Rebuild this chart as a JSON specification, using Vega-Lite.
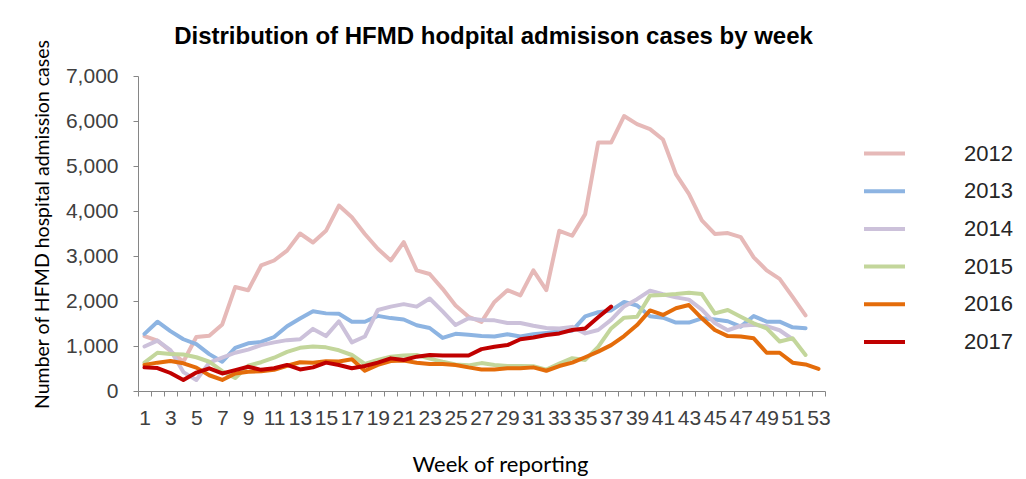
{
  "$schema": "https://vega.github.io/schema/vega-lite/v6.json",
  "width": 687,
  "height": 315,
  "autosize": {"type": "none"},
  "padding": {"left": 138, "top": 76, "right": 201, "bottom": 88},
  "background": "white",
  "title": {
    "text": "Distribution of HFMD hodpital admisison cases by week",
    "font": "Liberation Sans",
    "fontSize": 24,
    "fontWeight": "bold",
    "color": "#000000",
    "anchor": "middle",
    "dx": 12,
    "offset": -10
  },
  "config": {"view": {"stroke": null}, "font": "Liberation Sans"},
  "data": {
    "values": [
      {"year":"2012","week":1,"cases":1220},{"year":"2012","week":2,"cases":1120},{"year":"2012","week":3,"cases":890},{"year":"2012","week":4,"cases":650},{"year":"2012","week":5,"cases":1200},{"year":"2012","week":6,"cases":1230},{"year":"2012","week":7,"cases":1480},{"year":"2012","week":8,"cases":2310},{"year":"2012","week":9,"cases":2240},{"year":"2012","week":10,"cases":2790},{"year":"2012","week":11,"cases":2900},{"year":"2012","week":12,"cases":3120},{"year":"2012","week":13,"cases":3500},{"year":"2012","week":14,"cases":3300},{"year":"2012","week":15,"cases":3560},{"year":"2012","week":16,"cases":4120},{"year":"2012","week":17,"cases":3860},{"year":"2012","week":18,"cases":3490},{"year":"2012","week":19,"cases":3160},{"year":"2012","week":20,"cases":2900},{"year":"2012","week":21,"cases":3310},{"year":"2012","week":22,"cases":2680},{"year":"2012","week":23,"cases":2600},{"year":"2012","week":24,"cases":2270},{"year":"2012","week":25,"cases":1900},{"year":"2012","week":26,"cases":1650},{"year":"2012","week":27,"cases":1535},{"year":"2012","week":28,"cases":1980},{"year":"2012","week":29,"cases":2240},{"year":"2012","week":30,"cases":2125},{"year":"2012","week":31,"cases":2680},{"year":"2012","week":32,"cases":2240},{"year":"2012","week":33,"cases":3560},{"year":"2012","week":34,"cases":3450},{"year":"2012","week":35,"cases":3930},{"year":"2012","week":36,"cases":5520},{"year":"2012","week":37,"cases":5520},{"year":"2012","week":38,"cases":6110},{"year":"2012","week":39,"cases":5930},{"year":"2012","week":40,"cases":5820},{"year":"2012","week":41,"cases":5590},{"year":"2012","week":42,"cases":4820},{"year":"2012","week":43,"cases":4380},{"year":"2012","week":44,"cases":3790},{"year":"2012","week":45,"cases":3490},{"year":"2012","week":46,"cases":3510},{"year":"2012","week":47,"cases":3420},{"year":"2012","week":48,"cases":2970},{"year":"2012","week":49,"cases":2680},{"year":"2012","week":50,"cases":2490},{"year":"2012","week":51,"cases":2090},{"year":"2012","week":52,"cases":1680},
      {"year":"2013","week":1,"cases":1270},{"year":"2013","week":2,"cases":1540},{"year":"2013","week":3,"cases":1330},{"year":"2013","week":4,"cases":1150},{"year":"2013","week":5,"cases":1040},{"year":"2013","week":6,"cases":820},{"year":"2013","week":7,"cases":650},{"year":"2013","week":8,"cases":960},{"year":"2013","week":9,"cases":1060},{"year":"2013","week":10,"cases":1090},{"year":"2013","week":11,"cases":1200},{"year":"2013","week":12,"cases":1440},{"year":"2013","week":13,"cases":1610},{"year":"2013","week":14,"cases":1770},{"year":"2013","week":15,"cases":1725},{"year":"2013","week":16,"cases":1715},{"year":"2013","week":17,"cases":1540},{"year":"2013","week":18,"cases":1540},{"year":"2013","week":19,"cases":1670},{"year":"2013","week":20,"cases":1620},{"year":"2013","week":21,"cases":1590},{"year":"2013","week":22,"cases":1460},{"year":"2013","week":23,"cases":1400},{"year":"2013","week":24,"cases":1180},{"year":"2013","week":25,"cases":1270},{"year":"2013","week":26,"cases":1250},{"year":"2013","week":27,"cases":1220},{"year":"2013","week":28,"cases":1210},{"year":"2013","week":29,"cases":1260},{"year":"2013","week":30,"cases":1210},{"year":"2013","week":31,"cases":1260},{"year":"2013","week":32,"cases":1290},{"year":"2013","week":33,"cases":1320},{"year":"2013","week":34,"cases":1340},{"year":"2013","week":35,"cases":1660},{"year":"2013","week":36,"cases":1750},{"year":"2013","week":37,"cases":1790},{"year":"2013","week":38,"cases":1980},{"year":"2013","week":39,"cases":1900},{"year":"2013","week":40,"cases":1660},{"year":"2013","week":41,"cases":1630},{"year":"2013","week":42,"cases":1520},{"year":"2013","week":43,"cases":1520},{"year":"2013","week":44,"cases":1615},{"year":"2013","week":45,"cases":1590},{"year":"2013","week":46,"cases":1550},{"year":"2013","week":47,"cases":1430},{"year":"2013","week":48,"cases":1665},{"year":"2013","week":49,"cases":1540},{"year":"2013","week":50,"cases":1540},{"year":"2013","week":51,"cases":1415},{"year":"2013","week":52,"cases":1395},
      {"year":"2014","week":1,"cases":990},{"year":"2014","week":2,"cases":1120},{"year":"2014","week":3,"cases":910},{"year":"2014","week":4,"cases":420},{"year":"2014","week":5,"cases":245},{"year":"2014","week":6,"cases":630},{"year":"2014","week":7,"cases":740},{"year":"2014","week":8,"cases":850},{"year":"2014","week":9,"cases":920},{"year":"2014","week":10,"cases":1020},{"year":"2014","week":11,"cases":1080},{"year":"2014","week":12,"cases":1130},{"year":"2014","week":13,"cases":1150},{"year":"2014","week":14,"cases":1380},{"year":"2014","week":15,"cases":1220},{"year":"2014","week":16,"cases":1550},{"year":"2014","week":17,"cases":1080},{"year":"2014","week":18,"cases":1210},{"year":"2014","week":19,"cases":1800},{"year":"2014","week":20,"cases":1875},{"year":"2014","week":21,"cases":1930},{"year":"2014","week":22,"cases":1875},{"year":"2014","week":23,"cases":2055},{"year":"2014","week":24,"cases":1770},{"year":"2014","week":25,"cases":1465},{"year":"2014","week":26,"cases":1615},{"year":"2014","week":27,"cases":1580},{"year":"2014","week":28,"cases":1570},{"year":"2014","week":29,"cases":1510},{"year":"2014","week":30,"cases":1510},{"year":"2014","week":31,"cases":1450},{"year":"2014","week":32,"cases":1400},{"year":"2014","week":33,"cases":1390},{"year":"2014","week":34,"cases":1425},{"year":"2014","week":35,"cases":1280},{"year":"2014","week":36,"cases":1355},{"year":"2014","week":37,"cases":1580},{"year":"2014","week":38,"cases":1880},{"year":"2014","week":39,"cases":2040},{"year":"2014","week":40,"cases":2230},{"year":"2014","week":41,"cases":2150},{"year":"2014","week":42,"cases":2080},{"year":"2014","week":43,"cases":2030},{"year":"2014","week":44,"cases":1810},{"year":"2014","week":45,"cases":1510},{"year":"2014","week":46,"cases":1350},{"year":"2014","week":47,"cases":1450},{"year":"2014","week":48,"cases":1470},{"year":"2014","week":49,"cases":1440},{"year":"2014","week":50,"cases":1350},{"year":"2014","week":51,"cases":1150},
      {"year":"2015","week":1,"cases":630},{"year":"2015","week":2,"cases":850},{"year":"2015","week":3,"cases":820},{"year":"2015","week":4,"cases":810},{"year":"2015","week":5,"cases":750},{"year":"2015","week":6,"cases":650},{"year":"2015","week":7,"cases":440},{"year":"2015","week":8,"cases":290},{"year":"2015","week":9,"cases":560},{"year":"2015","week":10,"cases":640},{"year":"2015","week":11,"cases":740},{"year":"2015","week":12,"cases":870},{"year":"2015","week":13,"cases":960},{"year":"2015","week":14,"cases":990},{"year":"2015","week":15,"cases":970},{"year":"2015","week":16,"cases":905},{"year":"2015","week":17,"cases":800},{"year":"2015","week":18,"cases":600},{"year":"2015","week":19,"cases":690},{"year":"2015","week":20,"cases":760},{"year":"2015","week":21,"cases":790},{"year":"2015","week":22,"cases":800},{"year":"2015","week":23,"cases":720},{"year":"2015","week":24,"cases":650},{"year":"2015","week":25,"cases":590},{"year":"2015","week":26,"cases":570},{"year":"2015","week":27,"cases":620},{"year":"2015","week":28,"cases":580},{"year":"2015","week":29,"cases":555},{"year":"2015","week":30,"cases":555},{"year":"2015","week":31,"cases":550},{"year":"2015","week":32,"cases":475},{"year":"2015","week":33,"cases":610},{"year":"2015","week":34,"cases":730},{"year":"2015","week":35,"cases":690},{"year":"2015","week":36,"cases":980},{"year":"2015","week":37,"cases":1390},{"year":"2015","week":38,"cases":1630},{"year":"2015","week":39,"cases":1650},{"year":"2015","week":40,"cases":2120},{"year":"2015","week":41,"cases":2135},{"year":"2015","week":42,"cases":2155},{"year":"2015","week":43,"cases":2185},{"year":"2015","week":44,"cases":2155},{"year":"2015","week":45,"cases":1725},{"year":"2015","week":46,"cases":1800},{"year":"2015","week":47,"cases":1650},{"year":"2015","week":48,"cases":1505},{"year":"2015","week":49,"cases":1390},{"year":"2015","week":50,"cases":1100},{"year":"2015","week":51,"cases":1170},{"year":"2015","week":52,"cases":800},
      {"year":"2016","week":1,"cases":580},{"year":"2016","week":2,"cases":630},{"year":"2016","week":3,"cases":665},{"year":"2016","week":4,"cases":615},{"year":"2016","week":5,"cases":520},{"year":"2016","week":6,"cases":350},{"year":"2016","week":7,"cases":245},{"year":"2016","week":8,"cases":390},{"year":"2016","week":9,"cases":430},{"year":"2016","week":10,"cases":440},{"year":"2016","week":11,"cases":470},{"year":"2016","week":12,"cases":560},{"year":"2016","week":13,"cases":640},{"year":"2016","week":14,"cases":630},{"year":"2016","week":15,"cases":660},{"year":"2016","week":16,"cases":655},{"year":"2016","week":17,"cases":705},{"year":"2016","week":18,"cases":450},{"year":"2016","week":19,"cases":580},{"year":"2016","week":20,"cases":665},{"year":"2016","week":21,"cases":675},{"year":"2016","week":22,"cases":630},{"year":"2016","week":23,"cases":600},{"year":"2016","week":24,"cases":600},{"year":"2016","week":25,"cases":578},{"year":"2016","week":26,"cases":525},{"year":"2016","week":27,"cases":480},{"year":"2016","week":28,"cases":480},{"year":"2016","week":29,"cases":505},{"year":"2016","week":30,"cases":505},{"year":"2016","week":31,"cases":525},{"year":"2016","week":32,"cases":450},{"year":"2016","week":33,"cases":555},{"year":"2016","week":34,"cases":630},{"year":"2016","week":35,"cases":750},{"year":"2016","week":36,"cases":875},{"year":"2016","week":37,"cases":1020},{"year":"2016","week":38,"cases":1220},{"year":"2016","week":39,"cases":1465},{"year":"2016","week":40,"cases":1790},{"year":"2016","week":41,"cases":1690},{"year":"2016","week":42,"cases":1840},{"year":"2016","week":43,"cases":1910},{"year":"2016","week":44,"cases":1615},{"year":"2016","week":45,"cases":1355},{"year":"2016","week":46,"cases":1220},{"year":"2016","week":47,"cases":1210},{"year":"2016","week":48,"cases":1170},{"year":"2016","week":49,"cases":850},{"year":"2016","week":50,"cases":850},{"year":"2016","week":51,"cases":630},{"year":"2016","week":52,"cases":590},{"year":"2016","week":53,"cases":490},
      {"year":"2017","week":1,"cases":525},{"year":"2017","week":2,"cases":510},{"year":"2017","week":3,"cases":400},{"year":"2017","week":4,"cases":245},{"year":"2017","week":5,"cases":410},{"year":"2017","week":6,"cases":505},{"year":"2017","week":7,"cases":390},{"year":"2017","week":8,"cases":465},{"year":"2017","week":9,"cases":540},{"year":"2017","week":10,"cases":470},{"year":"2017","week":11,"cases":505},{"year":"2017","week":12,"cases":580},{"year":"2017","week":13,"cases":480},{"year":"2017","week":14,"cases":525},{"year":"2017","week":15,"cases":630},{"year":"2017","week":16,"cases":578},{"year":"2017","week":17,"cases":505},{"year":"2017","week":18,"cases":555},{"year":"2017","week":19,"cases":630},{"year":"2017","week":20,"cases":725},{"year":"2017","week":21,"cases":690},{"year":"2017","week":22,"cases":763},{"year":"2017","week":23,"cases":800},{"year":"2017","week":24,"cases":790},{"year":"2017","week":25,"cases":790},{"year":"2017","week":26,"cases":790},{"year":"2017","week":27,"cases":930},{"year":"2017","week":28,"cases":985},{"year":"2017","week":29,"cases":1020},{"year":"2017","week":30,"cases":1150},{"year":"2017","week":31,"cases":1190},{"year":"2017","week":32,"cases":1245},{"year":"2017","week":33,"cases":1280},{"year":"2017","week":34,"cases":1355},{"year":"2017","week":35,"cases":1390},{"year":"2017","week":36,"cases":1640},{"year":"2017","week":37,"cases":1875}
    ]
  },
  "mark": {"type": "line", "strokeWidth": 4, "strokeCap": "round", "strokeJoin": "round"},
  "encoding": {
    "x": {
      "field": "week",
      "type": "ordinal",
      "bandPosition": 0.5,
      "scale": {"type": "band", "paddingInner": 0, "paddingOuter": 0},
      "axis": {
        "title": "Week of reporting",
        "tickBand": "extent",
        "labelExpr": "datum.value % 2 == 1 ? datum.label : ''",
        "labelAngle": 0,
        "labelOverlap": false,
        "labelBound": false,
        "labelFont": "Liberation Sans",
        "labelFontSize": 21,
        "labelColor": "#404040",
        "labelPadding": 11,
        "tickSize": 5,
        "tickColor": "#868686",
        "domainColor": "#868686",
        "titleFont": "Lato",
        "titleFontSize": 22,
        "titleFontWeight": "normal",
        "titleColor": "#000000",
        "titleX": 362,
        "titlePadding": 26
      }
    },
    "y": {
      "field": "cases",
      "type": "quantitative",
      "scale": {"domain": [0, 7000], "nice": false},
      "axis": {
        "values": [0, 1000, 2000, 3000, 4000, 5000, 6000, 7000],
        "format": ",.0f",
        "grid": false,
        "title": "Number of HFMD hospital admission cases",
        "labelFont": "Liberation Sans",
        "labelFontSize": 21,
        "labelColor": "#404040",
        "labelPadding": 15,
        "tickSize": 5,
        "tickColor": "#868686",
        "domainColor": "#868686",
        "titleFont": "Lato",
        "titleFontSize": 19.5,
        "titleFontWeight": "normal",
        "titleColor": "#000000",
        "titleY": 148,
        "titlePadding": 13
      }
    },
    "color": {
      "field": "year",
      "type": "nominal",
      "scale": {
        "domain": ["2012", "2013", "2014", "2015", "2016", "2017"],
        "range": ["#E6B9B8", "#8DB4E2", "#CCC1DA", "#C3D69B", "#E46C0A", "#C00000"]
      },
      "legend": {
        "title": null,
        "orient": "none",
        "legendX": 724,
        "legendY": 55,
        "padding": 0,
        "symbolType": "stroke",
        "symbolStrokeWidth": 4,
        "symbolSize": 1681,
        "labelFont": "Liberation Sans",
        "labelFontSize": 22,
        "labelColor": "#262626",
        "labelOffset": 57,
        "rowPadding": 3.7
      }
    }
  }
}
